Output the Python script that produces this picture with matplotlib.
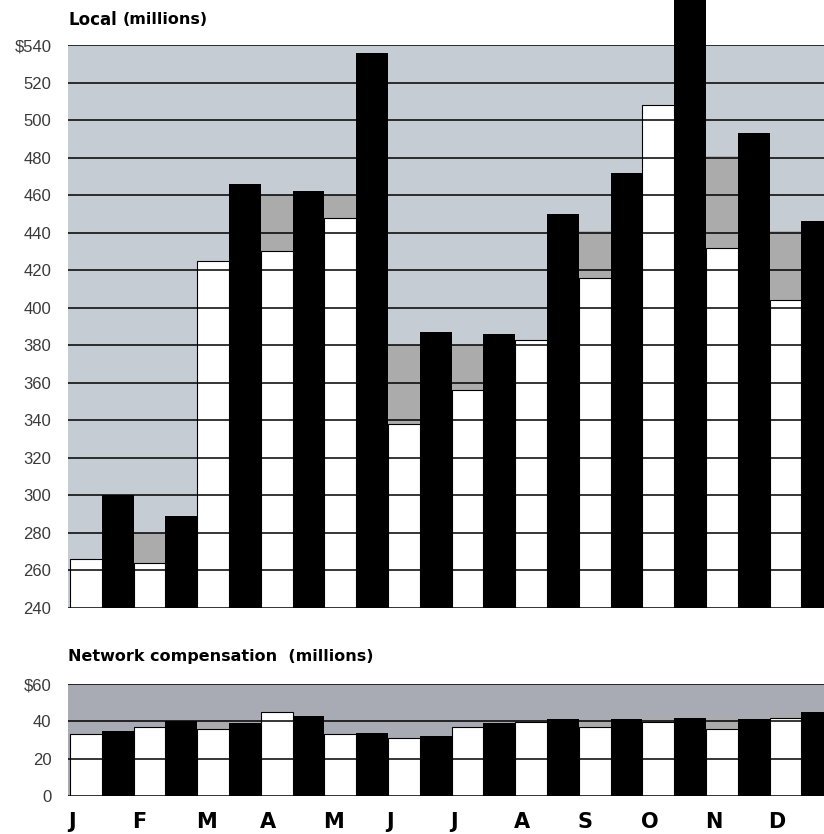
import numpy as np
import matplotlib.pyplot as plt

months = ['J', 'F', 'M', 'A', 'M', 'J', 'J', 'A', 'S', 'O', 'N', 'D']

# Local revenue (millions): white = first series, black = second series,
# gray = earlier level shown behind the white bars (None where absent)
local_white = [266, 264, 425, 430, 448, 338, 356, 383, 416, 508, 432, 404]
local_black = [300, 289, 466, 462, 536, 387, 386, 450, 472, 575, 493, 446]
local_gray = [None, 280, None, 460, 460, 380, 380, None, 441, None, 481, 441]

# Network compensation (millions)
net_white = [33, 37, 36, 45, 33, 31, 37, 39.5, 37, 39.5, 36, 42]
net_black = [35, 40, 39, 43, 34, 32, 39, 41, 41, 42, 41, 45]
net_gray = [None, None, 39, None, None, None, None, None, 40, 42, 42, 44]

local_ticks = np.arange(240, 541, 20)
net_ticks = [0, 20, 40, 60]

BG_TOP = '#c5ccd3'
BG_BOT = '#a8abb3'
GHOST = '#ababab'

fig = plt.figure(figsize=(8.24, 8.34), dpi=100)

x = np.arange(len(months))
w = 0.5
x0 = -0.03
x1 = (824 - 70) / 63.6


def draw_panel(ax, base, white, black, gray, ticks, bg):
    ax.set_facecolor(bg)
    g_vals = [g if g is not None else base for g in gray]
    ax.bar(x, np.array(g_vals) - base, w, bottom=base, align='edge',
           color=GHOST, zorder=2, linewidth=0)
    ax.bar(x, np.array(white) - base, w, bottom=base, align='edge',
           color='white', edgecolor='black', linewidth=0.8, zorder=2)
    ax.bar(x + w, np.array(black) - base, w, bottom=base, align='edge',
           color='black', linewidth=0, zorder=2, clip_on=False)
    for t in ticks:
        ax.axhline(t, color='black', lw=1.1, zorder=3)
    ax.set_xlim(x0, x1)
    ax.set_ylim(ticks[0], ticks[-1])
    ax.set_yticks(ticks)
    labels = [str(t) for t in ticks]
    labels[-1] = '$' + labels[-1]
    ax.set_yticklabels(labels, fontsize=12, color='#3a3a3a',
                       family='Liberation Sans')
    ax.tick_params(axis='y', length=0, pad=12)
    ax.set_xticks([])
    for s in ax.spines.values():
        s.set_visible(False)


ax1 = fig.add_axes([68 / 824, 1 - 608 / 834, 1 - 68 / 824, (608 - 45) / 834])
draw_panel(ax1, 240, local_white, local_black, local_gray, local_ticks, BG_TOP)

ax2 = fig.add_axes([68 / 824, 1 - 796 / 834, 1 - 68 / 824, (796 - 684) / 834])
draw_panel(ax2, 0, net_white, net_black, net_gray, net_ticks, BG_BOT)

for i, m in enumerate(months):
    ax2.text(i - 0.02, -0.23, m, transform=ax2.get_xaxis_transform(),
             ha='left', va='center', fontsize=15, fontweight='heavy',
             family='DejaVu Sans')

fig.text(68 / 824, 1 - 20 / 834, 'Local', fontsize=12, fontweight='bold',
         family='DejaVu Sans', va='center')
fig.text(123 / 824, 1 - 20 / 834, '(millions)', fontsize=11.5,
         fontweight='bold', family='DejaVu Sans', va='center')
fig.text(68 / 824, 1 - 656 / 834, 'Network compensation  (millions)',
         fontsize=11.5, fontweight='bold', family='DejaVu Sans', va='center')

fig.savefig('out.png', dpi=100)
